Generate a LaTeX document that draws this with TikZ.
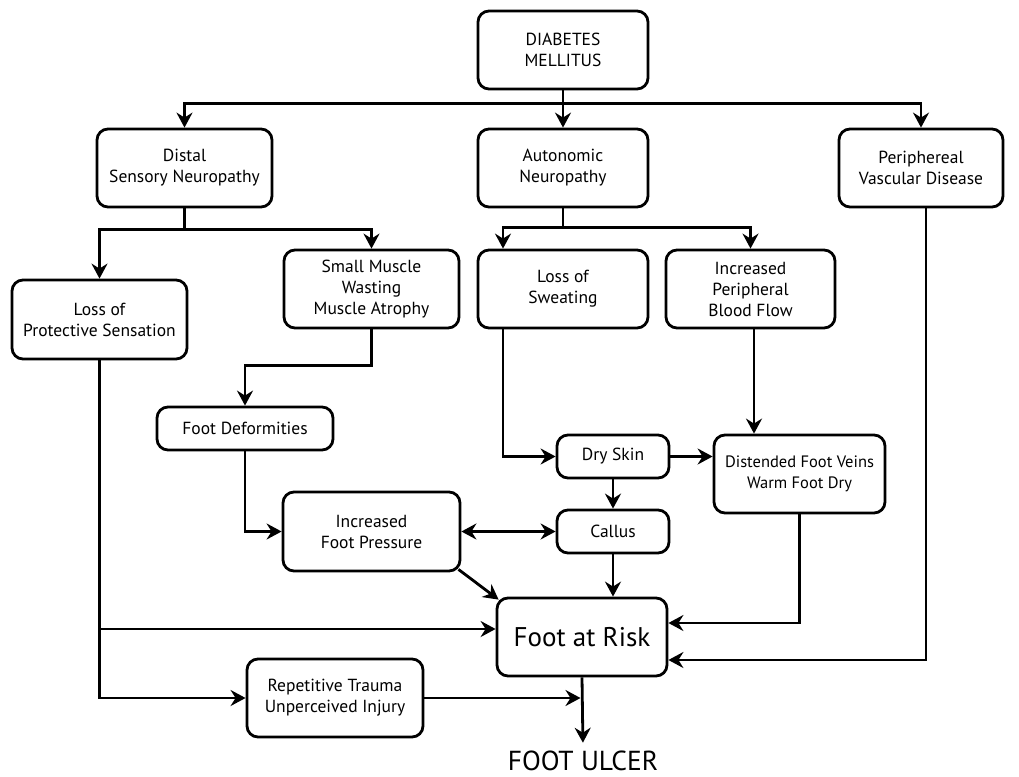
\documentclass[tikz,border=0pt]{standalone}
\usepackage{fontspec}
\setmainfont{PT Sans}
\usetikzlibrary{arrows.meta,calc}
\begin{document}
\begin{tikzpicture}[x=1pt,y=-1pt,
  box/.style={draw, line width=2.8pt, rounded corners=11pt, align=center, inner sep=0pt,
    font=\fontsize{17.5}{21}\selectfont},
  conn/.style={line width=2.8pt, -{Stealth[length=15pt,width=16pt,inset=5pt]}},
  conntwo/.style={line width=2.8pt, {Stealth[length=15pt,width=16pt,inset=5pt]}-{Stealth[length=15pt,width=16pt,inset=5pt]}},
  plain/.style={line width=2.8pt},
]
\useasboundingbox (0,0) rectangle (1019,776);

% nodes
\node[box, minimum width=170pt, minimum height=78pt] (dm)   at (563,50)    {DIABETES\\MELLITUS};
\node[box, minimum width=175pt, minimum height=78pt] (dsn)  at (184.5,168) {Distal\\Sensory Neuropathy};
\node[box, minimum width=170pt, minimum height=78pt] (an)   at (563,168)   {Autonomic\\Neuropathy};
\node[box, minimum width=164pt, minimum height=78pt] (pvd)  at (921,168)   {Periphereal\\Vascular Disease};
\node[box, minimum width=175pt, minimum height=79pt] (lps)  at (99.5,319.5){Loss of\\Protective Sensation};
\node[box, minimum width=175pt, minimum height=78pt] (smw)  at (371.5,289) {Small Muscle\\Wasting\\Muscle Atrophy};
\node[box, minimum width=170pt, minimum height=78pt] (los)  at (563,289)   {Loss of\\Sweating};
\node[box, minimum width=169pt, minimum height=78pt] (ipbf) at (750.5,289) {Increased\\Peripheral\\Blood Flow};
\node[box, minimum width=176pt, minimum height=43pt] (fd)   at (245,428.5) {Foot Deformities};
\node[box, minimum width=112pt, minimum height=43pt] (ds)   at (613,456.5) {Dry Skin};
\node[box, minimum width=171pt, minimum height=78pt, font=\fontsize{16.5}{21}\selectfont] (dfv) at (799.5,474) {Distended Foot Veins\\Warm Foot Dry};
\node[box, minimum width=177pt, minimum height=79pt] (ifp)  at (371.5,531.5){Increased\\Foot Pressure};
\node[box, minimum width=112pt, minimum height=43pt] (cal)  at (613,531.5) {Callus};
\node[box, minimum width=170pt, minimum height=78pt, font=\fontsize{27}{32}\selectfont] (far) at (582,637) {Foot at Risk};
\node[box, minimum width=176pt, minimum height=78pt] (rt)   at (335,698)   {Repetitive Trauma\\Unperceived Injury};
\node[anchor=base, inner sep=1.5pt, font=\fontsize{27.5}{32}\selectfont] (fu) at (583,770) {FOOT ULCER};

% helper coordinates
\coordinate (lsx) at (503,0);
\coordinate (bx) at (754,0);
\coordinate (px) at (926,0);
\coordinate (farinA) at ($(far.west)+(0,-8)$);
\coordinate (farinB) at ($(far.east)+(0,-14)$);
\coordinate (farinC) at ($(far.east)+(0,23)$);

% top distribution
\draw[conn] (dm.south) -- (an.north);
\coordinate (j1) at ($(dm.south)+(0,13)$);
\draw[conn] (j1) -| (dsn.north);
\draw[conn] (j1) -| (pvd.north);

% distal sensory neuropathy
\draw[plain] (dsn.south) -- ++(0,21) coordinate (j2);
\draw[conn] (j2) -| (lps.north);
\draw[conn] (j2) -| (smw.north);

% autonomic neuropathy
\draw[plain] (an.south) -- ++(0,19) coordinate (j3);
\draw[conn] (j3) -| (los.north -| lsx);
\draw[conn] (j3) -| (ipbf.north);

% small muscle -> foot deformities
\draw[conn] (smw.south) -- ++(0,36) -| (fd.north);

% loss of protective sensation
\draw[conn] (lps.south) |- (rt.west);
\draw[conn] (lps.south |- farinA) -- (farinA);

% foot deformities -> pressure
\draw[conn] (fd.south) |- (ifp.west);

% loss of sweating -> dry skin
\draw[conn] (los.south -| lsx) |- (ds.west);

% dry skin -> distended
\draw[conn] (ds.east) -- (ds.east -| dfv.west);

% blood flow -> distended
\draw[conn] (ipbf.south -| bx) -- (dfv.north -| bx);

% dry skin -> callus
\draw[conn] (ds.south) -- (cal.north);

% pressure <-> callus
\draw[conntwo] (ifp.east) -- (cal.west);

% callus -> foot at risk
\draw[conn] (cal.south) -- (cal.south |- far.north);

% pressure -> foot at risk
\draw[conn] ($(ifp.south east)+(-3,-3)$) -- ($(far.north west)+(3,3)$);

% distended -> foot at risk
\draw[conn] (dfv.south) |- (farinB);

% PVD -> foot at risk
\draw[conn] (pvd.south -| px) |- (farinC);

% foot at risk -> ulcer
\draw[conn, shorten >=6pt] (far.south) -- (fu.north);

% repetitive trauma -> ulcer line
\draw[conn, shorten >=1.5pt] (rt.east) -- (rt.east -| far.south);
\end{tikzpicture}
\end{document}
